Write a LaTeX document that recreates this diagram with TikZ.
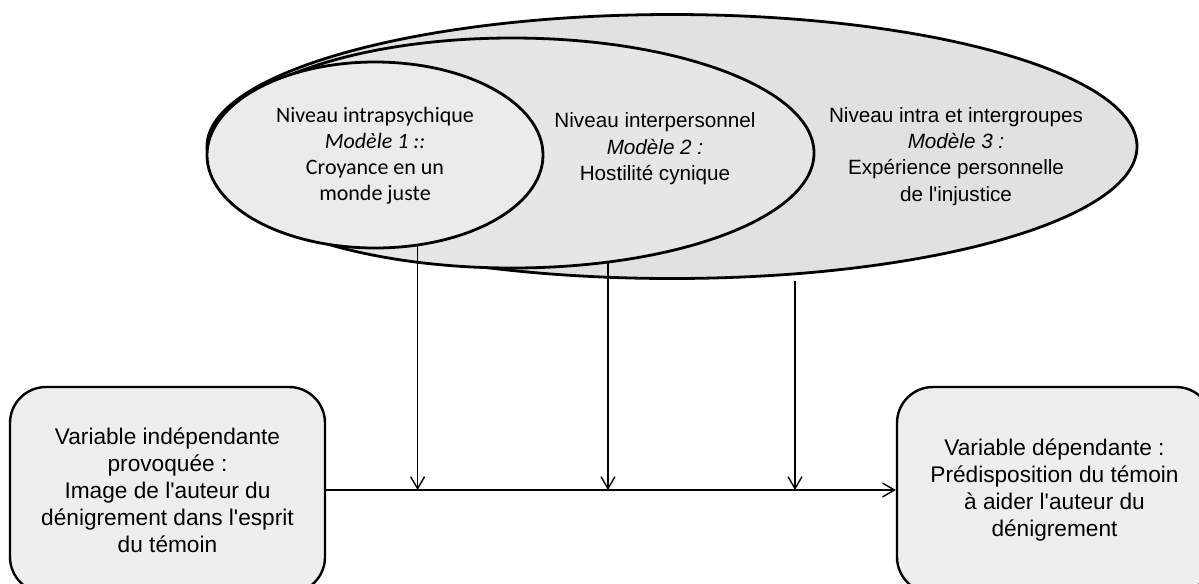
\documentclass[tikz,border=0pt]{standalone}
\usepackage{fontspec}
\newfontfamily\arialf{Liberation Sans}
\newfontfamily\calib{Carlito}
\usetikzlibrary{shapes.geometric,arrows.meta}
\definecolor{ethree}{HTML}{E1E1E1}
\definecolor{etwo}{HTML}{E6E6E6}
\definecolor{eone}{HTML}{EBEBEB}
\definecolor{boxgray}{HTML}{EEEEEE}
\begin{document}
\begin{tikzpicture}[x=0.75pt,y=-0.75pt,
  ell/.style={ellipse, draw=black, line width=2.1pt, inner sep=0pt},
  vbox/.style={draw=black, line width=1.8pt, rounded corners=27pt, fill=boxgray,
    align=center, inner sep=0pt, minimum width=236.25pt, minimum height=154.5pt,
    font=\arialf\fontsize{17}{20.3}\selectfont},
  lbl/.style={align=center, inner sep=0pt},
  arr/.style={line width=1.05pt, -{Straight Barb[length=9pt,width=10.5pt]}}]
\useasboundingbox (0,0) rectangle (1199,583);

% nested ellipses
\node[ell, fill=ethree, minimum width=697.5pt, minimum height=198pt] (e3) at (672,146.5) {};
\node[ell, fill=etwo, minimum width=453pt, minimum height=172.5pt] (e2) at (512,153) {};
\node[ell, fill=eone, minimum width=252pt, minimum height=139.5pt] (e1) at (375,155) {};

\node[lbl, font=\calib\fontsize{16.5}{19.5}\selectfont] (t1) at (375,156)
  {Niveau intrapsychique\\ \textit{Modèle 1 ::}\\ Croyance en un\\ monde juste};
\node[lbl, font=\arialf\fontsize{15.5}{19.9}\selectfont] (t2) at (655,149)
  {Niveau interpersonnel\\ \textit{Modèle 2 :}\\ Hostilité cynique};
\node[lbl, font=\arialf\fontsize{15.5}{19.7}\selectfont] (t3) at (956,156.5)
  {Niveau intra et intergroupes\\ \textit{Modèle 3 :}\\ Expérience personnelle\\ de l'injustice};

% variable boxes
\node[vbox] (vi) at (167.5,490)
  {Variable indépendante\\ provoquée :\\ Image de l'auteur du\\ dénigrement dans l'esprit\\ du témoin};
\node[vbox] (vd) at (1054.5,490)
  {Variable dépendante :\\ Prédisposition du témoin\\ à aider l'auteur du\\ dénigrement};

% connectors
\coordinate (s3) at (795,281);
\draw[arr] (vi.east) -- (vd.west);
\draw[arr] (e1.-65) -- (e1.-65 |- vi.east);
\draw[arr] (e2.-49.5) -- (e2.-49.5 |- vi.east);
\draw[arr] (s3) -- (s3 |- vi.east);
\end{tikzpicture}
\end{document}
